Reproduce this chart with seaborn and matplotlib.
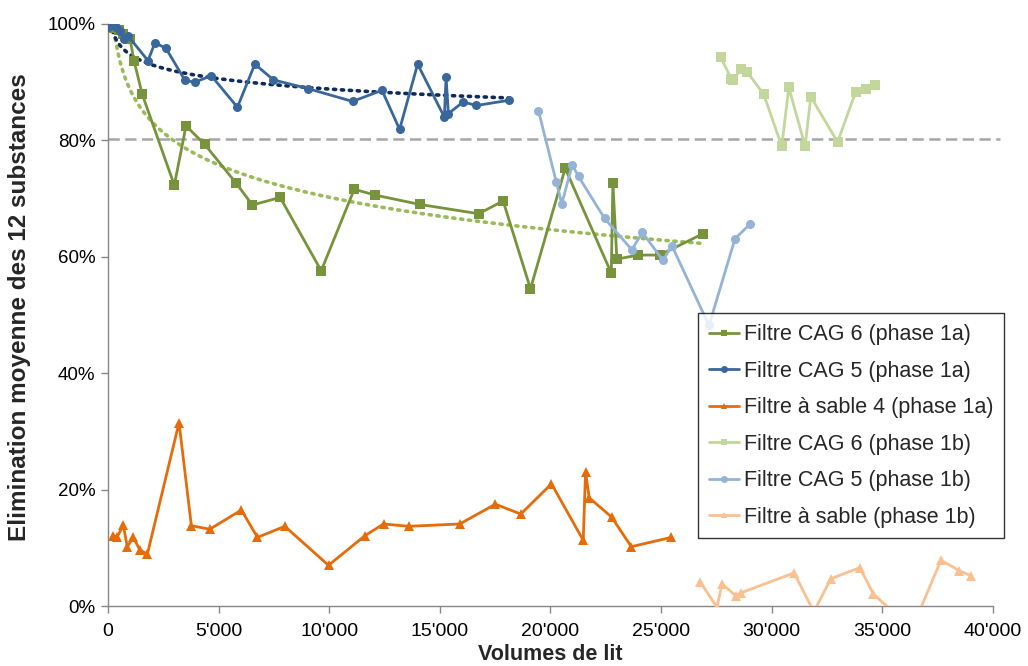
import numpy as np
import pandas as pd
import matplotlib
matplotlib.use("Agg")
import matplotlib.pyplot as plt
import seaborn as sns
from matplotlib.ticker import FuncFormatter

# ---------------- data ----------------
cag6_1a_x = [60, 250, 500, 700, 1000, 1176, 1552, 3000, 3529, 4376, 5805, 6529, 7783, 9638,
             11131, 12081, 14087, 16756, 17860, 19095, 20665, 22747, 22819, 23000, 23950,
             24932, 26910]
cag6_1a_y = [99.3, 99.6, 99.0, 98.2, 97.4, 93.7, 87.9, 72.3, 82.5, 79.3, 72.6, 68.9, 70.2, 57.6,
             71.6, 70.6, 69.0, 67.4, 69.6, 54.5, 75.2, 57.2, 72.7, 59.6, 60.3, 60.3, 64.0]

cag5_1a_x = [14, 195, 376, 557, 724, 918, 1810, 2127, 2624, 3484, 3923, 4674, 5851, 6638,
             7480, 9036, 11054, 12385, 13181, 13995, 15204, 15281, 15385, 16050, 16652, 18145]
cag5_1a_y = [99.5, 99.8, 99.4, 98.8, 97.4, 97.9, 93.7, 96.8, 95.8, 90.3, 90.0, 91.1, 85.7, 93.1,
             90.4, 88.9, 86.7, 88.6, 81.9, 93.1, 84.0, 90.9, 84.6, 86.6, 86.0, 86.9]

sand4_1a_x = [226, 422, 694, 875, 1146, 1434, 1780, 3213, 3771, 4601, 6032, 6756, 7993, 9968,
              11615, 12457, 13588, 15896, 17511, 18656, 20045, 21479, 21584, 21751, 22760,
              23652, 25462]
sand4_1a_y = [12.0, 11.9, 13.9, 10.2, 11.8, 9.7, 8.9, 31.5, 13.8, 13.2, 16.5, 11.8, 13.7, 7.0,
              12.1, 14.1, 13.7, 14.1, 17.5, 15.8, 21.0, 11.3, 23.0, 18.6, 15.3, 10.2, 11.8]

cag6_1b_x = [27692, 28177, 28250, 28629, 28882, 29638, 30452, 30769, 31507, 31765, 32973,
             33787, 34267, 34674]
cag6_1b_y = [94.3, 90.5, 90.4, 92.3, 91.8, 87.9, 79.0, 89.1, 79.0, 87.5, 79.7, 88.3, 88.8, 89.6]

cag5_1b_x = [19457, 20258, 20511, 20982, 21267, 22443, 23679, 24149, 25082, 25489, 27163,
             28339, 29036]
cag5_1b_y = [85.1, 72.9, 69.1, 75.8, 73.8, 66.6, 61.2, 64.2, 59.4, 61.9, 48.2, 63.1, 65.7]

sand_1b_x = [26773, 27525, 27751, 28371, 28629, 31009, 31900, 32670, 33982, 34588, 36330,
             37647, 38462, 39005]
sand_1b_y = [4.1, -0.2, 3.8, 1.8, 2.3, 5.7, -1.0, 4.7, 6.6, 2.1, -4.0, 7.9, 6.1, 5.2]

threshold = 80.3
x_ticks = [0, 5000, 10000, 15000, 20000, 25000, 30000, 35000, 40000]
y_ticks = [0, 20, 40, 60, 80, 100]

labels = ["Filtre CAG 6 (phase 1a)", "Filtre CAG 5 (phase 1a)", "Filtre à sable 4 (phase 1a)",
          "Filtre CAG 6 (phase 1b)", "Filtre CAG 5 (phase 1b)", "Filtre à sable (phase 1b)"]

# ---------------- styling ----------------
sns.set_theme(style="white")
plt.rcParams["font.family"] = ["Liberation Sans", "DejaVu Sans"]

fig = plt.figure(figsize=(10.28, 6.66), dpi=100)
ax = fig.add_axes([0.105, 0.09, 0.861, 0.874])

series = [
    (cag6_1a_x, cag6_1a_y, "#77933C", "s", 7),
    (cag5_1a_x, cag5_1a_y, "#3A679B", "o", 6.5),
    (sand4_1a_x, sand4_1a_y, "#E46C0A", "^", 7),
    (cag6_1b_x, cag6_1b_y, "#C3D69B", "s", 7),
    (cag5_1b_x, cag5_1b_y, "#95B3D7", "o", 6.5),
    (sand_1b_x, sand_1b_y, "#FAC090", "^", 7),
]

# dashed threshold line
ax.axhline(threshold / 100, color="#A6A6A6", lw=1.8, ls=(0, (4.5, 2.2)), zorder=1,
           xmax=1.008, clip_on=False)

handles = []
for (xs, ys, col, mk, ms), lab in zip(series, labels):
    df = pd.DataFrame({"x": xs, "y": np.array(ys) / 100})
    sns.lineplot(data=df, x="x", y="y", ax=ax, sort=False, estimator=None, color=col,
                 lw=2, marker=mk, markersize=ms, markeredgewidth=0, markerfacecolor=col,
                 zorder=3)
    h, = ax.plot([], [], color=col, lw=2, marker=mk, markersize=5, markeredgewidth=0)
    handles.append(h)

# logarithmic trend lines (fitted to the data, as in the spreadsheet)
for xs, ys, col in [(cag6_1a_x, cag6_1a_y, "#9BBB59"), (cag5_1a_x, cag5_1a_y, "#0F2A5C")]:
    xa = np.array(xs, dtype=float)
    b, a = np.polyfit(np.log(xa), np.array(ys), 1)
    xx = np.geomspace(xa.min(), xa.max(), 400)
    ax.plot(xx, (a + b * np.log(xx)) / 100, color=col, lw=2.6, ls=(0, (0.6, 1.6)),
            dash_capstyle="round", zorder=2)

ax.set_xlim(0, 40000)
ax.set_ylim(0, 1)
ax.set_xticks(x_ticks)
ax.set_yticks([v / 100 for v in y_ticks])
ax.xaxis.set_major_formatter(FuncFormatter(lambda v, p: f"{int(v):,}".replace(",", "'")))
ax.yaxis.set_major_formatter(FuncFormatter(lambda v, p: f"{v*100:.0f}%"))

for s in ["top", "right"]:
    ax.spines[s].set_visible(False)
for s in ["left", "bottom"]:
    ax.spines[s].set_color("#868686")
    ax.spines[s].set_linewidth(1.0)
ax.tick_params(axis="both", which="major", direction="out", length=5, width=1,
               color="#868686", labelcolor="black", bottom=True, left=True)
ax.tick_params(axis="x", pad=7, labelsize=14)
ax.tick_params(axis="y", pad=4, labelsize=13.5)
ax.grid(False)

ax.set_xlabel("Volumes de lit", fontsize=15.5, fontweight="bold", labelpad=3)
ax.set_ylabel("Elimination moyenne des 12 substances", fontsize=17.5, fontweight="bold")
ax.yaxis.set_label_coords(-0.087, 0.514)

leg = ax.legend(handles, labels, loc="upper left", bbox_to_anchor=(0.667, 0.503),
                frameon=True, fancybox=False, fontsize=15.5, handlelength=1.4,
                handletextpad=0.2, labelspacing=0.72, borderpad=0.5, borderaxespad=0)
leg.get_frame().set_edgecolor("black")
leg.get_frame().set_linewidth(1.0)
leg.set_zorder(5)

fig.savefig("out.png", dpi=100)
